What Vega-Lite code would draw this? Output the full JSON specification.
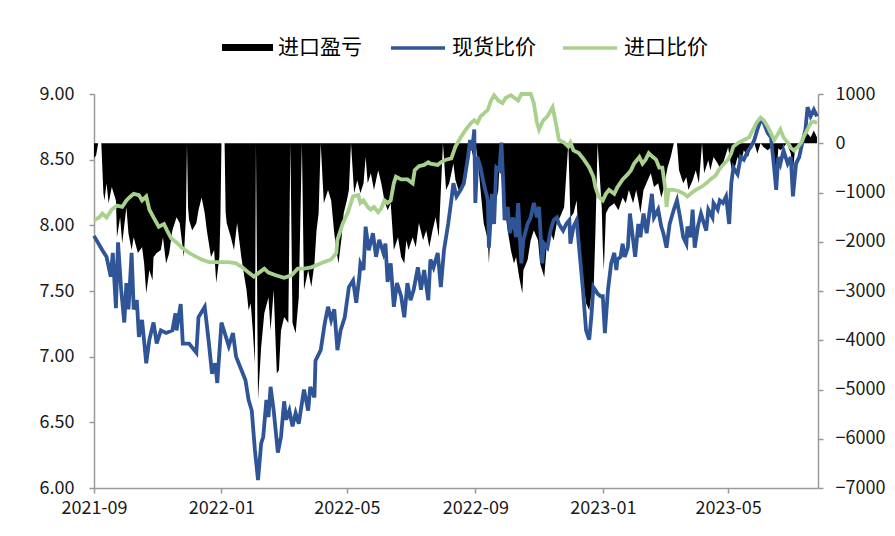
{
  "$schema": "https://vega.github.io/schema/vega-lite/v6.json",
  "autosize": "none",
  "width": 724,
  "height": 394,
  "padding": {"left": 94, "top": 94, "right": 77, "bottom": 48},
  "background": "white",
  "config": {
    "font": "Noto Sans CJK SC",
    "view": {"stroke": null},
    "axis": {"grid": false, "domainColor": "#9a9a9a", "domainWidth": 1.5, "tickColor": "#9a9a9a", "tickWidth": 1.5, "tickSize": 5, "labelFont": "Noto Sans CJK SC", "labelFontSize": 18, "labelColor": "#1a1a1a", "title": null},
    "legend": {"orient": "none", "direction": "horizontal", "title": null, "labelFont": "Noto Sans CJK SC", "labelFontSize": 21, "labelColor": "#000000", "labelOffset": 5}
  },
  "datasets": {
    "pl": [
      {"d":"2021-09-01","v":-300},{"d":"2021-09-03","v":-250},{"d":"2021-09-05","v":0},{"d":"2021-09-08","v":0},{"d":"2021-09-10","v":-1015},{"d":"2021-09-11","v":-1160},{"d":"2021-09-13","v":-810},{"d":"2021-09-15","v":-1220},{"d":"2021-09-18","v":-890},{"d":"2021-09-22","v":-1160},{"d":"2021-09-23","v":-1910},{"d":"2021-09-26","v":-1500},{"d":"2021-09-28","v":-2030},
      {"d":"2021-10-02","v":-1300},{"d":"2021-10-04","v":-1830},{"d":"2021-10-07","v":-2170},{"d":"2021-10-09","v":-1910},{"d":"2021-10-13","v":-2230},{"d":"2021-10-17","v":-2110},{"d":"2021-10-19","v":-2440},{"d":"2021-10-21","v":-3045},{"d":"2021-10-24","v":-2580},{"d":"2021-10-27","v":-2780},{"d":"2021-10-28","v":-2310},{"d":"2021-10-31","v":-2230},
      {"d":"2021-11-04","v":-2170},{"d":"2021-11-06","v":-1910},{"d":"2021-11-09","v":-2440},{"d":"2021-11-12","v":-2230},{"d":"2021-11-15","v":-1770},{"d":"2021-11-19","v":-1500},{"d":"2021-11-22","v":-1620},{"d":"2021-11-24","v":-1970},{"d":"2021-11-26","v":-2310},{"d":"2021-11-28","v":-1500},{"d":"2021-11-29","v":0},{"d":"2021-11-30","v":-1300},
      {"d":"2021-12-01","v":-1560},{"d":"2021-12-04","v":-1770},{"d":"2021-12-08","v":-1620},{"d":"2021-12-10","v":-1360},{"d":"2021-12-13","v":-1100},{"d":"2021-12-16","v":-1420},{"d":"2021-12-18","v":-1770},{"d":"2021-12-22","v":-2310},{"d":"2021-12-25","v":-2170},{"d":"2021-12-27","v":-2840},{"d":"2021-12-30","v":-2310},{"d":"2021-12-31","v":-1500},
      {"d":"2022-01-01","v":0},{"d":"2022-01-04","v":0},{"d":"2022-01-05","v":-1400},{"d":"2022-01-06","v":-1620},{"d":"2022-01-10","v":-1910},{"d":"2022-01-13","v":-2170},{"d":"2022-01-16","v":-1620},{"d":"2022-01-20","v":-2310},{"d":"2022-01-23","v":-2720},{"d":"2022-01-25","v":-2980},{"d":"2022-01-27","v":-3390},{"d":"2022-01-29","v":-3250},{"d":"2022-01-31","v":-3800},
      {"d":"2022-02-02","v":-4470},{"d":"2022-02-03","v":0},{"d":"2022-02-05","v":-5200},{"d":"2022-02-08","v":-4140},{"d":"2022-02-11","v":-3450},{"d":"2022-02-15","v":-3130},{"d":"2022-02-17","v":-3800},{"d":"2022-02-20","v":-2980},{"d":"2022-02-22","v":-4140},{"d":"2022-02-23","v":-4670},{"d":"2022-02-25","v":-4610},{"d":"2022-02-27","v":-3800},
      {"d":"2022-03-02","v":-3530},{"d":"2022-03-06","v":-3650},{"d":"2022-03-08","v":0},{"d":"2022-03-10","v":-3650},{"d":"2022-03-13","v":-3860},{"d":"2022-03-16","v":-3130},{"d":"2022-03-19","v":0},{"d":"2022-03-21","v":-2980},{"d":"2022-03-25","v":-2580},{"d":"2022-03-28","v":-2920},{"d":"2022-03-31","v":-2440},
      {"d":"2022-04-02","v":-1770},{"d":"2022-04-04","v":-1420},{"d":"2022-04-06","v":0},{"d":"2022-04-09","v":-1220},{"d":"2022-04-13","v":-950},{"d":"2022-04-16","v":-1160},{"d":"2022-04-19","v":-1830},{"d":"2022-04-22","v":-2310},{"d":"2022-04-23","v":-2440},{"d":"2022-04-26","v":-1910},{"d":"2022-04-28","v":-1420},
      {"d":"2022-05-01","v":-1160},{"d":"2022-05-03","v":-950},{"d":"2022-05-05","v":0},{"d":"2022-05-08","v":-1015},{"d":"2022-05-11","v":-750},{"d":"2022-05-14","v":-1015},{"d":"2022-05-17","v":-810},{"d":"2022-05-19","v":-280},{"d":"2022-05-21","v":-810},{"d":"2022-05-24","v":-610},{"d":"2022-05-27","v":-950},{"d":"2022-05-31","v":-550},
      {"d":"2022-06-03","v":-810},{"d":"2022-06-06","v":-1160},{"d":"2022-06-09","v":-1360},{"d":"2022-06-12","v":-1220},{"d":"2022-06-15","v":-2170},{"d":"2022-06-19","v":-1910},{"d":"2022-06-22","v":-2310},{"d":"2022-06-25","v":-2440},{"d":"2022-06-27","v":-1970},{"d":"2022-06-29","v":-2170},
      {"d":"2022-07-03","v":-1910},{"d":"2022-07-06","v":-2110},{"d":"2022-07-09","v":-1620},{"d":"2022-07-13","v":-1970},{"d":"2022-07-16","v":-1770},{"d":"2022-07-19","v":-2110},{"d":"2022-07-22","v":-1770},{"d":"2022-07-25","v":-1500},{"d":"2022-07-28","v":-1910},
      {"d":"2022-08-01","v":0},{"d":"2022-08-04","v":-950},{"d":"2022-08-07","v":-810},{"d":"2022-08-11","v":-410},{"d":"2022-08-13","v":-750},{"d":"2022-08-16","v":-950},{"d":"2022-08-18","v":-950},{"d":"2022-08-21","v":-690},{"d":"2022-08-25","v":-280},{"d":"2022-08-27","v":0},{"d":"2022-08-30","v":-280},
      {"d":"2022-09-01","v":0},{"d":"2022-09-03","v":-280},{"d":"2022-09-06","v":-950},{"d":"2022-09-09","v":-1620},{"d":"2022-09-13","v":-1970},{"d":"2022-09-14","v":-2440},{"d":"2022-09-16","v":-1620},{"d":"2022-09-19","v":-1360},{"d":"2022-09-23","v":-950},{"d":"2022-09-25","v":0},{"d":"2022-09-28","v":-1160},
      {"d":"2022-10-02","v":-1770},{"d":"2022-10-05","v":-2170},{"d":"2022-10-08","v":-2440},{"d":"2022-10-10","v":-2310},{"d":"2022-10-13","v":-2720},{"d":"2022-10-16","v":-3045},{"d":"2022-10-17","v":-2580},{"d":"2022-10-21","v":-2370},{"d":"2022-10-24","v":-1970},{"d":"2022-10-27","v":-1770},{"d":"2022-10-31","v":-1970},
      {"d":"2022-11-02","v":-2440},{"d":"2022-11-06","v":-2720},{"d":"2022-11-08","v":-2170},{"d":"2022-11-11","v":-1770},{"d":"2022-11-15","v":-1970},{"d":"2022-11-18","v":-1620},{"d":"2022-11-21","v":-1500},{"d":"2022-11-25","v":-1300},{"d":"2022-11-29","v":0},
      {"d":"2022-12-01","v":-1500},{"d":"2022-12-04","v":-1420},{"d":"2022-12-07","v":-1160},{"d":"2022-12-09","v":-2000},{"d":"2022-12-13","v":-2780},{"d":"2022-12-16","v":-3250},{"d":"2022-12-19","v":-3390},{"d":"2022-12-21","v":-3100},{"d":"2022-12-23","v":-3130},{"d":"2022-12-25","v":-1770},{"d":"2022-12-27","v":0},{"d":"2022-12-31","v":-1300},
      {"d":"2023-01-01","v":-2110},{"d":"2023-01-02","v":-2580},{"d":"2023-01-04","v":-1420},{"d":"2023-01-07","v":-1300},{"d":"2023-01-12","v":-1220},{"d":"2023-01-16","v":-1360},{"d":"2023-01-20","v":-1100},{"d":"2023-01-23","v":-1220},{"d":"2023-01-26","v":-950},{"d":"2023-01-30","v":-1220},
      {"d":"2023-02-02","v":-950},{"d":"2023-02-04","v":-1160},{"d":"2023-02-06","v":-1420},{"d":"2023-02-09","v":-950},{"d":"2023-02-13","v":-750},{"d":"2023-02-16","v":-610},{"d":"2023-02-19","v":-890},{"d":"2023-02-23","v":-810},{"d":"2023-02-26","v":-1100},{"d":"2023-02-28","v":-950},
      {"d":"2023-03-04","v":-490},{"d":"2023-03-07","v":-280},{"d":"2023-03-10","v":0},{"d":"2023-03-13","v":0},{"d":"2023-03-15","v":-550},{"d":"2023-03-19","v":-810},{"d":"2023-03-22","v":-690},{"d":"2023-03-24","v":-950},{"d":"2023-03-28","v":-750},{"d":"2023-03-31","v":-550},
      {"d":"2023-04-03","v":-810},{"d":"2023-04-06","v":0},{"d":"2023-04-08","v":-610},{"d":"2023-04-12","v":-345},{"d":"2023-04-14","v":-550},{"d":"2023-04-17","v":-280},{"d":"2023-04-21","v":-410},{"d":"2023-04-24","v":-550},{"d":"2023-04-27","v":-345},
      {"d":"2023-05-01","v":-80},{"d":"2023-05-04","v":-490},{"d":"2023-05-06","v":-610},{"d":"2023-05-10","v":-280},{"d":"2023-05-13","v":-410},{"d":"2023-05-16","v":-140},{"d":"2023-05-20","v":-280},{"d":"2023-05-23","v":-80},{"d":"2023-05-26","v":0},{"d":"2023-05-29","v":-210},
      {"d":"2023-06-01","v":0},{"d":"2023-06-04","v":-80},{"d":"2023-06-08","v":-140},{"d":"2023-06-11","v":-80},{"d":"2023-06-14","v":-300},{"d":"2023-06-16","v":-700},{"d":"2023-06-18","v":-100},{"d":"2023-06-20","v":-140},{"d":"2023-06-23","v":-80},{"d":"2023-06-26","v":0},{"d":"2023-06-30","v":-210},
      {"d":"2023-07-02","v":-600},{"d":"2023-07-04","v":-100},{"d":"2023-07-07","v":-40},{"d":"2023-07-10","v":0},{"d":"2023-07-12","v":80},{"d":"2023-07-14","v":200},{"d":"2023-07-16","v":200},{"d":"2023-07-19","v":120},{"d":"2023-07-22","v":260},{"d":"2023-07-25","v":120}
    ],
    "spot": [
      {"d":"2021-09-01","v":7.92},{"d":"2021-09-09","v":7.81},{"d":"2021-09-13","v":7.76},{"d":"2021-09-17","v":7.61},{"d":"2021-09-19","v":7.79},{"d":"2021-09-22","v":7.37},{"d":"2021-09-24","v":7.87},{"d":"2021-09-27","v":7.51},{"d":"2021-09-30","v":7.26},
      {"d":"2021-10-02","v":7.56},{"d":"2021-10-04","v":7.36},{"d":"2021-10-07","v":7.79},{"d":"2021-10-09","v":7.36},{"d":"2021-10-12","v":7.43},{"d":"2021-10-14","v":7.15},{"d":"2021-10-17","v":7.28},{"d":"2021-10-21","v":6.95},{"d":"2021-10-24","v":7.13},{"d":"2021-10-28","v":7.26},{"d":"2021-10-31","v":7.10},
      {"d":"2021-11-04","v":7.20},{"d":"2021-11-09","v":7.18},{"d":"2021-11-15","v":7.20},{"d":"2021-11-18","v":7.33},{"d":"2021-11-19","v":7.20},{"d":"2021-11-23","v":7.40},{"d":"2021-11-25","v":7.10},
      {"d":"2021-12-01","v":7.10},{"d":"2021-12-08","v":7.03},{"d":"2021-12-10","v":7.30},{"d":"2021-12-16","v":7.38},{"d":"2021-12-20","v":7.10},{"d":"2021-12-23","v":6.87},{"d":"2021-12-26","v":6.95},{"d":"2021-12-28","v":6.80},
      {"d":"2022-01-01","v":7.26},{"d":"2022-01-08","v":7.08},{"d":"2022-01-12","v":7.18},{"d":"2022-01-15","v":7.00},{"d":"2022-01-20","v":6.90},{"d":"2022-01-24","v":6.82},{"d":"2022-01-27","v":6.67},{"d":"2022-01-30","v":6.59},
      {"d":"2022-02-02","v":6.29},{"d":"2022-02-05","v":6.06},{"d":"2022-02-08","v":6.34},{"d":"2022-02-10","v":6.39},{"d":"2022-02-13","v":6.67},{"d":"2022-02-15","v":6.54},{"d":"2022-02-17","v":6.77},{"d":"2022-02-20","v":6.59},{"d":"2022-02-24","v":6.27},{"d":"2022-02-27","v":6.39},
      {"d":"2022-03-02","v":6.66},{"d":"2022-03-04","v":6.52},{"d":"2022-03-07","v":6.59},{"d":"2022-03-10","v":6.47},{"d":"2022-03-13","v":6.57},{"d":"2022-03-16","v":6.49},{"d":"2022-03-21","v":6.75},{"d":"2022-03-25","v":6.59},{"d":"2022-03-27","v":6.77},{"d":"2022-03-31","v":6.69},
      {"d":"2022-04-01","v":6.97},{"d":"2022-04-06","v":7.05},{"d":"2022-04-10","v":7.26},{"d":"2022-04-13","v":7.38},{"d":"2022-04-16","v":7.28},{"d":"2022-04-19","v":7.36},{"d":"2022-04-22","v":7.05},{"d":"2022-04-25","v":7.20},{"d":"2022-04-29","v":7.30},
      {"d":"2022-05-03","v":7.53},{"d":"2022-05-07","v":7.58},{"d":"2022-05-10","v":7.41},{"d":"2022-05-13","v":7.61},{"d":"2022-05-14","v":7.71},{"d":"2022-05-17","v":7.66},{"d":"2022-05-19","v":7.99},{"d":"2022-05-22","v":7.81},{"d":"2022-05-26","v":7.94},{"d":"2022-05-29","v":7.76},
      {"d":"2022-06-01","v":7.89},{"d":"2022-06-05","v":7.79},{"d":"2022-06-07","v":7.86},{"d":"2022-06-09","v":7.57},{"d":"2022-06-12","v":7.71},{"d":"2022-06-15","v":7.38},{"d":"2022-06-18","v":7.56},{"d":"2022-06-22","v":7.46},{"d":"2022-06-25","v":7.30},{"d":"2022-06-28","v":7.56},
      {"d":"2022-07-01","v":7.43},{"d":"2022-07-04","v":7.51},{"d":"2022-07-08","v":7.68},{"d":"2022-07-11","v":7.51},{"d":"2022-07-14","v":7.66},{"d":"2022-07-18","v":7.43},{"d":"2022-07-20","v":7.74},{"d":"2022-07-23","v":7.68},{"d":"2022-07-27","v":7.79},{"d":"2022-07-30","v":7.53},
      {"d":"2022-08-02","v":7.81},{"d":"2022-08-06","v":8.01},{"d":"2022-08-09","v":8.19},{"d":"2022-08-11","v":8.32},{"d":"2022-08-14","v":8.22},{"d":"2022-08-18","v":8.27},{"d":"2022-08-21","v":8.32},{"d":"2022-08-25","v":8.52},{"d":"2022-08-27","v":8.65},{"d":"2022-08-29","v":8.57},{"d":"2022-08-31","v":8.73},
      {"d":"2022-09-01","v":8.17},{"d":"2022-09-03","v":8.52},{"d":"2022-09-06","v":8.44},{"d":"2022-09-09","v":8.32},{"d":"2022-09-13","v":8.19},{"d":"2022-09-14","v":7.83},{"d":"2022-09-17","v":8.24},{"d":"2022-09-19","v":8.01},{"d":"2022-09-21","v":8.44},{"d":"2022-09-24","v":8.42},{"d":"2022-09-26","v":8.63},{"d":"2022-09-28","v":8.27},{"d":"2022-09-29","v":8.04},
      {"d":"2022-10-02","v":8.14},{"d":"2022-10-04","v":7.94},{"d":"2022-10-07","v":8.06},{"d":"2022-10-10","v":7.91},{"d":"2022-10-12","v":8.17},{"d":"2022-10-15","v":7.71},{"d":"2022-10-17","v":7.89},{"d":"2022-10-21","v":8.01},{"d":"2022-10-24","v":8.06},{"d":"2022-10-27","v":8.17},{"d":"2022-10-30","v":8.06},
      {"d":"2022-11-01","v":8.14},{"d":"2022-11-04","v":7.71},{"d":"2022-11-06","v":7.86},{"d":"2022-11-09","v":7.83},{"d":"2022-11-12","v":7.96},{"d":"2022-11-15","v":8.04},{"d":"2022-11-18","v":8.06},{"d":"2022-11-20","v":8.01},{"d":"2022-11-24","v":7.96},{"d":"2022-11-27","v":8.01},{"d":"2022-11-30","v":8.04},
      {"d":"2022-12-01","v":7.86},{"d":"2022-12-04","v":7.99},{"d":"2022-12-07","v":8.04},{"d":"2022-12-09","v":7.86},{"d":"2022-12-13","v":7.51},{"d":"2022-12-16","v":7.20},{"d":"2022-12-19","v":7.13},{"d":"2022-12-21","v":7.30},{"d":"2022-12-23","v":7.53},{"d":"2022-12-27","v":7.48},{"d":"2022-12-30","v":7.46},
      {"d":"2023-01-01","v":7.46},{"d":"2023-01-03","v":7.18},{"d":"2023-01-06","v":7.51},{"d":"2023-01-09","v":7.71},{"d":"2023-01-12","v":7.79},{"d":"2023-01-14","v":7.66},{"d":"2023-01-15","v":7.74},{"d":"2023-01-18","v":7.76},{"d":"2023-01-20","v":7.86},{"d":"2023-01-22","v":7.76},{"d":"2023-01-25","v":7.83},{"d":"2023-01-27","v":8.09},{"d":"2023-01-30","v":7.89},
      {"d":"2023-02-01","v":7.76},{"d":"2023-02-04","v":8.01},{"d":"2023-02-06","v":7.91},{"d":"2023-02-09","v":8.09},{"d":"2023-02-12","v":7.94},{"d":"2023-02-14","v":8.06},{"d":"2023-02-17","v":8.24},{"d":"2023-02-19","v":8.06},{"d":"2023-02-23","v":8.12},{"d":"2023-02-26","v":7.99},{"d":"2023-02-28","v":7.94},
      {"d":"2023-03-03","v":7.83},{"d":"2023-03-06","v":8.01},{"d":"2023-03-10","v":8.12},{"d":"2023-03-13","v":8.19},{"d":"2023-03-16","v":8.06},{"d":"2023-03-19","v":7.91},{"d":"2023-03-22","v":7.86},{"d":"2023-03-23","v":7.99},{"d":"2023-03-26","v":7.91},{"d":"2023-03-28","v":8.12},{"d":"2023-03-30","v":7.83},
      {"d":"2023-04-02","v":7.99},{"d":"2023-04-05","v":8.09},{"d":"2023-04-08","v":8.01},{"d":"2023-04-10","v":7.96},{"d":"2023-04-12","v":8.12},{"d":"2023-04-16","v":8.06},{"d":"2023-04-17","v":8.17},{"d":"2023-04-21","v":8.12},{"d":"2023-04-23","v":8.19},{"d":"2023-04-26","v":8.17},{"d":"2023-04-29","v":8.22},
      {"d":"2023-05-02","v":8.01},{"d":"2023-05-04","v":8.32},{"d":"2023-05-06","v":8.44},{"d":"2023-05-10","v":8.39},{"d":"2023-05-13","v":8.52},{"d":"2023-05-16","v":8.50},{"d":"2023-05-20","v":8.57},{"d":"2023-05-23","v":8.60},{"d":"2023-05-26","v":8.65},{"d":"2023-05-29","v":8.73},
      {"d":"2023-06-01","v":8.80},{"d":"2023-06-04","v":8.78},{"d":"2023-06-08","v":8.70},{"d":"2023-06-11","v":8.67},{"d":"2023-06-14","v":8.44},{"d":"2023-06-16","v":8.27},{"d":"2023-06-18","v":8.52},{"d":"2023-06-20","v":8.47},{"d":"2023-06-23","v":8.57},{"d":"2023-06-27","v":8.47},{"d":"2023-06-30","v":8.52},
      {"d":"2023-07-02","v":8.22},{"d":"2023-07-05","v":8.47},{"d":"2023-07-08","v":8.52},{"d":"2023-07-11","v":8.63},{"d":"2023-07-14","v":8.73},{"d":"2023-07-16","v":8.90},{"d":"2023-07-19","v":8.83},{"d":"2023-07-22","v":8.88},{"d":"2023-07-25","v":8.83}
    ],
    "imp": [
      {"d":"2021-09-01","v":8.04},{"d":"2021-09-06","v":8.06},{"d":"2021-09-09","v":8.09},{"d":"2021-09-13","v":8.06},{"d":"2021-09-18","v":8.12},{"d":"2021-09-23","v":8.15},{"d":"2021-09-28","v":8.14},
      {"d":"2021-10-02","v":8.19},{"d":"2021-10-06","v":8.22},{"d":"2021-10-09","v":8.24},{"d":"2021-10-14","v":8.23},{"d":"2021-10-17","v":8.19},{"d":"2021-10-21","v":8.22},{"d":"2021-10-24","v":8.12},{"d":"2021-10-28","v":8.06},
      {"d":"2021-11-02","v":7.99},{"d":"2021-11-07","v":8.01},{"d":"2021-11-10","v":7.96},{"d":"2021-11-14","v":7.90},{"d":"2021-11-19","v":7.87},{"d":"2021-11-24","v":7.83},
      {"d":"2021-12-01","v":7.79},{"d":"2021-12-08","v":7.76},{"d":"2021-12-13","v":7.74},{"d":"2021-12-20","v":7.72},{"d":"2021-12-27","v":7.72},
      {"d":"2022-01-01","v":7.72},{"d":"2022-01-08","v":7.72},{"d":"2022-01-15","v":7.71},{"d":"2022-01-21","v":7.68},{"d":"2022-01-27","v":7.64},
      {"d":"2022-02-01","v":7.61},{"d":"2022-02-06","v":7.64},{"d":"2022-02-11","v":7.67},{"d":"2022-02-15","v":7.64},{"d":"2022-02-22","v":7.62},
      {"d":"2022-03-02","v":7.60},{"d":"2022-03-09","v":7.62},{"d":"2022-03-15","v":7.67},{"d":"2022-03-21","v":7.67},{"d":"2022-03-28","v":7.68},
      {"d":"2022-04-03","v":7.70},{"d":"2022-04-09","v":7.72},{"d":"2022-04-16","v":7.74},{"d":"2022-04-21","v":7.79},{"d":"2022-04-22","v":7.89},{"d":"2022-04-27","v":8.01},
      {"d":"2022-05-02","v":8.10},{"d":"2022-05-07","v":8.22},{"d":"2022-05-12","v":8.23},{"d":"2022-05-14","v":8.17},{"d":"2022-05-17","v":8.19},{"d":"2022-05-21","v":8.14},{"d":"2022-05-24","v":8.12},{"d":"2022-05-27","v":8.14},{"d":"2022-05-31","v":8.10},
      {"d":"2022-06-03","v":8.13},{"d":"2022-06-06","v":8.19},{"d":"2022-06-09","v":8.17},{"d":"2022-06-12","v":8.19},{"d":"2022-06-15","v":8.32},{"d":"2022-06-17","v":8.37},{"d":"2022-06-22","v":8.35},{"d":"2022-06-28","v":8.35},
      {"d":"2022-07-03","v":8.32},{"d":"2022-07-05","v":8.42},{"d":"2022-07-09","v":8.45},{"d":"2022-07-14","v":8.46},{"d":"2022-07-18","v":8.48},{"d":"2022-07-20","v":8.47},{"d":"2022-07-27","v":8.46},{"d":"2022-07-30","v":8.48},
      {"d":"2022-08-04","v":8.50},{"d":"2022-08-09","v":8.51},{"d":"2022-08-13","v":8.60},{"d":"2022-08-18","v":8.67},{"d":"2022-08-23","v":8.73},{"d":"2022-08-28","v":8.78},{"d":"2022-08-31","v":8.80},
      {"d":"2022-09-03","v":8.78},{"d":"2022-09-06","v":8.83},{"d":"2022-09-09","v":8.85},{"d":"2022-09-13","v":8.88},{"d":"2022-09-16","v":8.95},{"d":"2022-09-19","v":8.99},{"d":"2022-09-23","v":8.95},{"d":"2022-09-27","v":8.93},{"d":"2022-09-30","v":8.97},
      {"d":"2022-10-05","v":8.99},{"d":"2022-10-12","v":8.95},{"d":"2022-10-15","v":9.00},{"d":"2022-10-24","v":9.00},{"d":"2022-10-27","v":8.93},{"d":"2022-10-30","v":8.78},
      {"d":"2022-11-01","v":8.73},{"d":"2022-11-05","v":8.80},{"d":"2022-11-09","v":8.83},{"d":"2022-11-14","v":8.90},{"d":"2022-11-17","v":8.78},{"d":"2022-11-20","v":8.65},{"d":"2022-11-25","v":8.63},{"d":"2022-11-29","v":8.60},
      {"d":"2022-12-01","v":8.63},{"d":"2022-12-04","v":8.57},{"d":"2022-12-09","v":8.55},{"d":"2022-12-14","v":8.50},{"d":"2022-12-19","v":8.44},{"d":"2022-12-23","v":8.37},{"d":"2022-12-25","v":8.29},{"d":"2022-12-28","v":8.22},
      {"d":"2023-01-01","v":8.19},{"d":"2023-01-04","v":8.24},{"d":"2023-01-07","v":8.27},{"d":"2023-01-12","v":8.24},{"d":"2023-01-15","v":8.29},{"d":"2023-01-20","v":8.35},{"d":"2023-01-25","v":8.39},{"d":"2023-01-28","v":8.42},{"d":"2023-01-31","v":8.47},
      {"d":"2023-02-05","v":8.52},{"d":"2023-02-08","v":8.47},{"d":"2023-02-11","v":8.50},{"d":"2023-02-14","v":8.55},{"d":"2023-02-18","v":8.52},{"d":"2023-02-21","v":8.50},{"d":"2023-02-24","v":8.44},{"d":"2023-02-27","v":8.44},
      {"d":"2023-03-02","v":8.27},{"d":"2023-03-03","v":8.14},{"d":"2023-03-05","v":8.27},{"d":"2023-03-10","v":8.27},{"d":"2023-03-15","v":8.26},{"d":"2023-03-20","v":8.24},{"d":"2023-03-23","v":8.22},{"d":"2023-03-26","v":8.24},{"d":"2023-03-31","v":8.27},
      {"d":"2023-04-05","v":8.29},{"d":"2023-04-10","v":8.32},{"d":"2023-04-14","v":8.35},{"d":"2023-04-19","v":8.38},{"d":"2023-04-22","v":8.42},{"d":"2023-04-26","v":8.46},
      {"d":"2023-05-01","v":8.50},{"d":"2023-05-04","v":8.55},{"d":"2023-05-06","v":8.60},{"d":"2023-05-11","v":8.63},{"d":"2023-05-16","v":8.65},{"d":"2023-05-21","v":8.67},{"d":"2023-05-25","v":8.73},{"d":"2023-05-28","v":8.78},
      {"d":"2023-06-01","v":8.82},{"d":"2023-06-04","v":8.80},{"d":"2023-06-08","v":8.75},{"d":"2023-06-11","v":8.70},{"d":"2023-06-14","v":8.65},{"d":"2023-06-18","v":8.70},{"d":"2023-06-20","v":8.73},{"d":"2023-06-23","v":8.67},{"d":"2023-06-27","v":8.63},{"d":"2023-06-30","v":8.59},
      {"d":"2023-07-03","v":8.57},{"d":"2023-07-07","v":8.60},{"d":"2023-07-10","v":8.63},{"d":"2023-07-12","v":8.67},{"d":"2023-07-16","v":8.73},{"d":"2023-07-19","v":8.78},{"d":"2023-07-22","v":8.79},{"d":"2023-07-25","v":8.78}
    ]
  },
  "layer": [
    {
      "data": {"name": "pl"},
      "mark": {"type": "area", "interpolate": "linear", "opacity": 1},
      "encoding": {
        "x": {"field": "d", "type": "temporal",
          "scale": {"type": "utc", "domain": [{"year": 2021, "month": 9, "date": 1, "utc": true}, {"year": 2023, "month": 7, "date": 26, "utc": true}]},
          "axis": {"values": [{"year": 2021, "month": 9, "date": 1, "utc": true}, {"year": 2022, "month": 1, "date": 1, "utc": true}, {"year": 2022, "month": 5, "date": 1, "utc": true}, {"year": 2022, "month": 9, "date": 1, "utc": true}, {"year": 2023, "month": 1, "date": 1, "utc": true}, {"year": 2023, "month": 5, "date": 1, "utc": true}], "labelExpr": "utcFormat(datum.value, '%Y-%m')", "labelPadding": 6, "labelFlush": false, "labelOverlap": false}},
        "y": {"field": "v", "type": "quantitative", "stack": null,
          "scale": {"domain": [-7000, 1000], "nice": false, "zero": false},
          "axis": {"orient": "right", "values": [-7000, -6000, -5000, -4000, -3000, -2000, -1000, 0, 1000], "format": "d", "labelPadding": 12}},
        "y2": {"datum": 0},
        "fill": {"datum": "进口盈亏", "type": "nominal",
          "scale": {"domain": ["进口盈亏"], "range": ["#000000"]},
          "legend": {"legendX": 128, "legendY": -72, "symbolType": "M-1,-0.14H1V0.14H-1Z", "symbolSize": 2601, "symbolStrokeWidth": 0, "symbolOpacity": 1}}
      }
    },
    {
      "data": {"name": "spot"},
      "mark": {"type": "line", "strokeWidth": 3.8, "interpolate": "linear"},
      "encoding": {
        "x": {"field": "d", "type": "temporal",
          "scale": {"type": "utc", "domain": [{"year": 2021, "month": 9, "date": 1, "utc": true}, {"year": 2023, "month": 7, "date": 26, "utc": true}]},
          "axis": {"values": [{"year": 2021, "month": 9, "date": 1, "utc": true}, {"year": 2022, "month": 1, "date": 1, "utc": true}, {"year": 2022, "month": 5, "date": 1, "utc": true}, {"year": 2022, "month": 9, "date": 1, "utc": true}, {"year": 2023, "month": 1, "date": 1, "utc": true}, {"year": 2023, "month": 5, "date": 1, "utc": true}], "labelExpr": "utcFormat(datum.value, '%Y-%m')", "labelPadding": 6, "labelFlush": false, "labelOverlap": false}},
        "y": {"field": "v", "type": "quantitative",
          "scale": {"domain": [6, 9], "nice": false, "zero": false},
          "axis": {"orient": "left", "values": [6, 6.5, 7, 7.5, 8, 8.5, 9], "format": ".2f", "labelPadding": 15}},
        "stroke": {"datum": "现货比价", "type": "nominal",
          "scale": {"domain": ["现货比价", "进口比价"], "range": ["#2F5597", "#A9D18E"]},
          "legend": {"legendX": 295, "legendY": -75, "symbolType": "stroke", "symbolSize": 2916, "symbolStrokeWidth": 3.3, "columnPadding": 20}}
      }
    },
    {
      "data": {"name": "imp"},
      "mark": {"type": "line", "strokeWidth": 3.8, "interpolate": "linear"},
      "encoding": {
        "x": {"field": "d", "type": "temporal",
          "scale": {"type": "utc", "domain": [{"year": 2021, "month": 9, "date": 1, "utc": true}, {"year": 2023, "month": 7, "date": 26, "utc": true}]},
          "axis": {"values": [{"year": 2021, "month": 9, "date": 1, "utc": true}, {"year": 2022, "month": 1, "date": 1, "utc": true}, {"year": 2022, "month": 5, "date": 1, "utc": true}, {"year": 2022, "month": 9, "date": 1, "utc": true}, {"year": 2023, "month": 1, "date": 1, "utc": true}, {"year": 2023, "month": 5, "date": 1, "utc": true}], "labelExpr": "utcFormat(datum.value, '%Y-%m')", "labelPadding": 6, "labelFlush": false, "labelOverlap": false}},
        "y": {"field": "v", "type": "quantitative",
          "scale": {"domain": [6, 9], "nice": false, "zero": false},
          "axis": null},
        "stroke": {"datum": "进口比价", "type": "nominal",
          "scale": {"domain": ["现货比价", "进口比价"], "range": ["#2F5597", "#A9D18E"]},
          "legend": {"legendX": 295, "legendY": -75, "symbolType": "stroke", "symbolSize": 2916, "symbolStrokeWidth": 3.3, "columnPadding": 20}}
      }
    }
  ],
  "resolve": {"scale": {"y": "independent"}}
}
